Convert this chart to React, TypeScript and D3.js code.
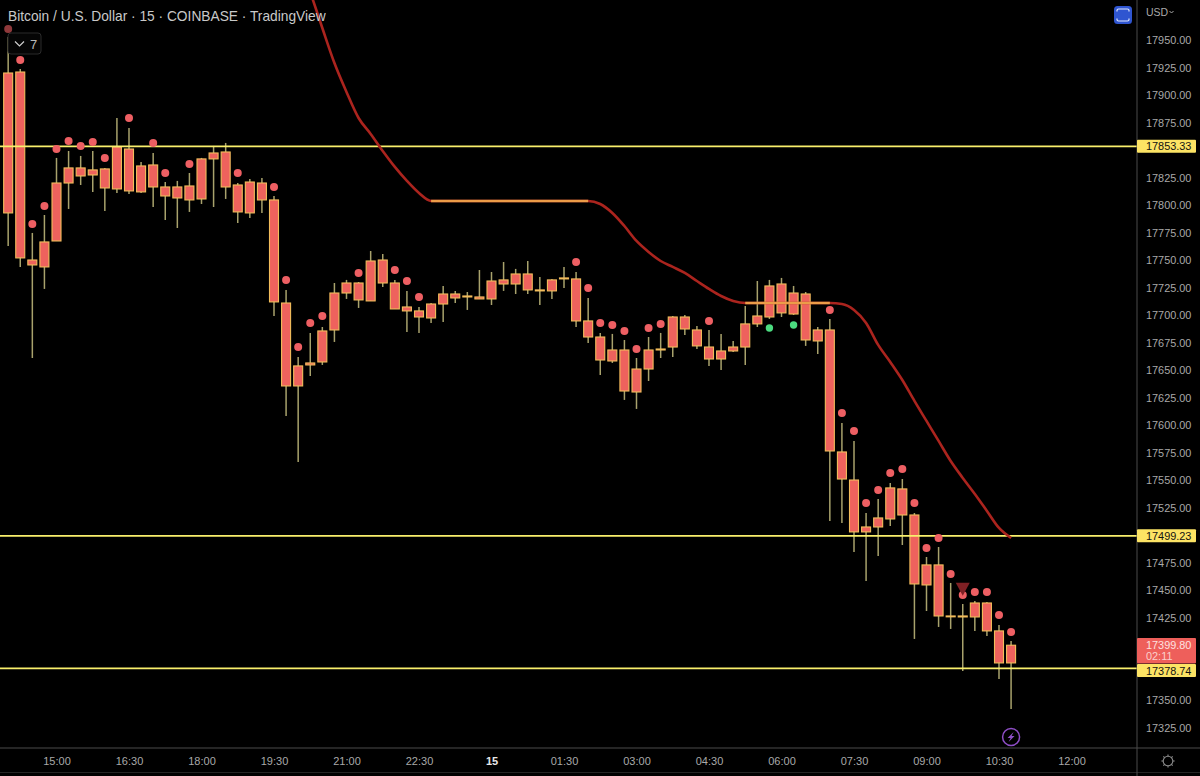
import { useEffect, useRef, FC } from "react";
import * as d3 from "d3";

const WIDTH = 1200;
const HEIGHT = 776;
const AXIS_X = 1137;
const AXIS_Y = 748;
const FONT = "'Liberation Sans', Arial, sans-serif";

const title = "Bitcoin / U.S. Dollar · 15 · COINBASE · TradingView";

/* one bar every 15 minutes, first bar is 14:00 on the 14th */
const highs = [
  17952.8, 17923.7, 17774.6, 17790.9, 17842.8, 17849.1, 17844.6, 17849.1, 17833.7, 17879.1,
  17870.0, 17839.1, 17847.3, 17820.9, 17821.9, 17829.1, 17842.8, 17853.7, 17856.4, 17820.0,
  17823.7, 17824.6, 17808.2, 17722.8, 17661.9, 17683.7, 17689.1, 17729.1, 17731.9, 17730.0,
  17758.2, 17755.5, 17731.9, 17721.9, 17707.3, 17710.9, 17726.4, 17721.9, 17720.9, 17740.9,
  17739.1, 17748.2, 17741.9, 17749.1, 17734.6, 17732.8, 17743.7, 17739.1, 17715.5, 17683.7,
  17682.8, 17677.3, 17660.9, 17680.0, 17683.7, 17699.1, 17700.0, 17690.0, 17686.4, 17682.8,
  17676.4, 17708.2, 17730.9, 17731.9, 17733.7, 17726.4, 17720.9, 17689.1, 17696.4, 17601.9,
  17585.5, 17520.0, 17532.8, 17547.3, 17550.9, 17520.0, 17480.0, 17489.1, 17456.4, 17437.3,
  17440.0, 17439.1, 17418.2, 17403.7,
];
const bodyTops = [
  17920.0, 17920.9, 17750.0, 17766.4, 17820.0, 17833.7, 17833.7, 17831.9, 17832.8, 17852.8,
  17850.9, 17835.5, 17836.4, 17816.4, 17816.4, 17817.3, 17841.9, 17847.3, 17848.2, 17818.2,
  17820.9, 17820.0, 17804.6, 17710.9, 17653.7, 17656.4, 17685.5, 17720.0, 17729.1, 17729.1,
  17749.1, 17750.0, 17729.1, 17707.3, 17703.7, 17710.0, 17719.1, 17719.1, 17717.3, 17716.4,
  17730.9, 17731.9, 17737.3, 17737.3, 17722.8, 17731.9, 17733.7, 17732.8, 17694.6, 17680.0,
  17668.2, 17668.2, 17650.9, 17668.2, 17669.1, 17698.2, 17698.2, 17686.4, 17670.9, 17667.3,
  17670.9, 17691.9, 17699.1, 17726.4, 17728.2, 17720.0, 17719.1, 17686.4, 17686.4, 17575.5,
  17550.0, 17507.3, 17515.5, 17542.8, 17541.9, 17518.2, 17472.8, 17472.8, 17426.4, 17426.4,
  17438.2, 17438.2, 17412.8, 17399.8,
];
const bodyBottoms = [
  17792.8, 17751.9, 17745.5, 17743.7, 17767.3, 17820.0, 17826.4, 17827.3, 17815.5, 17814.6,
  17812.8, 17811.9, 17816.4, 17808.2, 17806.4, 17804.6, 17805.5, 17841.9, 17816.4, 17793.7,
  17792.8, 17804.6, 17711.9, 17635.5, 17635.5, 17654.6, 17657.3, 17686.4, 17720.0, 17713.7,
  17712.8, 17729.1, 17705.5, 17703.7, 17698.2, 17697.3, 17710.0, 17715.5, 17716.4, 17714.6,
  17714.6, 17728.2, 17728.2, 17722.8, 17721.9, 17721.9, 17732.8, 17694.6, 17680.0, 17659.1,
  17658.2, 17630.9, 17630.0, 17650.9, 17668.2, 17670.9, 17687.3, 17671.9, 17660.0, 17660.0,
  17667.3, 17670.9, 17691.9, 17698.2, 17701.9, 17700.9, 17677.3, 17676.4, 17576.4, 17550.9,
  17502.8, 17502.8, 17507.3, 17514.6, 17518.2, 17455.5, 17454.6, 17426.4, 17425.6, 17425.5,
  17425.5, 17412.8, 17383.7, 17383.7,
];
const lows = [
  17762.8, 17743.7, 17660.9, 17723.7, 17767.3, 17796.4, 17818.2, 17811.9, 17794.6, 17810.9,
  17810.0, 17810.9, 17798.2, 17786.4, 17779.1, 17793.7, 17800.9, 17798.2, 17805.5, 17783.7,
  17788.2, 17792.8, 17699.1, 17608.2, 17566.4, 17644.6, 17654.6, 17675.5, 17714.6, 17706.4,
  17712.8, 17725.5, 17705.5, 17684.6, 17683.7, 17692.8, 17693.7, 17710.9, 17704.6, 17714.6,
  17709.1, 17721.9, 17719.1, 17719.1, 17709.1, 17714.6, 17724.6, 17689.1, 17674.6, 17645.5,
  17656.4, 17622.8, 17614.6, 17640.0, 17660.9, 17661.9, 17681.9, 17669.1, 17653.7, 17650.0,
  17666.4, 17654.6, 17689.1, 17696.4, 17698.2, 17700.0, 17671.9, 17664.6, 17512.8, 17510.9,
  17484.6, 17458.2, 17480.9, 17508.2, 17490.9, 17405.5, 17430.9, 17416.4, 17414.6, 17376.4,
  17412.8, 17408.2, 17369.1, 17341.9,
];

/* red dots above the bars: bar index, price */
const redDotBars = [
  0, 1, 2, 3, 4, 5, 6, 7, 8, 10, 12, 13, 15, 19, 22, 23, 24, 25, 26, 29, 32, 33, 34, 47, 48, 49,
  50, 51, 52, 53, 54, 58, 68, 69, 70, 71, 72, 73, 74, 75, 76, 77, 78, 79, 80, 81, 82, 83,
];
const redDotPrices = [
  17960.0, 17931.9, 17782.8, 17799.1, 17850.9, 17858.2, 17853.7, 17857.3, 17842.8, 17879.1,
  17856.4, 17829.1, 17837.3, 17829.1, 17816.4, 17731.9, 17670.9, 17692.8, 17699.1, 17738.2,
  17740.9, 17730.9, 17716.4, 17748.2, 17724.6, 17692.8, 17690.9, 17685.5, 17669.1, 17688.2,
  17691.9, 17694.6, 17704.6, 17610.9, 17594.6, 17529.1, 17540.9, 17556.4, 17560.0, 17529.1,
  17488.2, 17497.3, 17464.6, 17445.5, 17448.2, 17448.2, 17427.3, 17411.9,
];
const greenDotBars = [63, 65];
const greenDotPrices = [17688.2, 17690.9];

/* moving average, starts at bar 25 */
const maStart = 25;
const maValues = [
  17993.7, 17960.9, 17929.1, 17902.8, 17879.1, 17864.6, 17849.1, 17834.6, 17821.9, 17810.9,
  17803.7, 17803.7, 17803.7, 17803.7, 17803.7, 17803.7, 17803.7, 17803.7, 17803.7, 17803.7,
  17803.7, 17803.7, 17803.7, 17803.7, 17800.9, 17792.8, 17780.9, 17767.3, 17757.3, 17749.1,
  17743.7, 17738.2, 17730.9, 17723.7, 17717.3, 17712.8, 17710.9, 17710.9, 17710.9, 17710.9,
  17710.9, 17710.9, 17710.9, 17710.9, 17710.0, 17704.6, 17692.8, 17672.8, 17657.3, 17640.9,
  17621.9, 17603.7, 17585.5, 17567.3, 17551.9, 17537.3, 17521.9, 17506.4, 17497.3,
];

const levels = [17853.33, 17499.23, 17378.74];
const lastPrice = 17399.8;
const countdown = "02:11";
const signalBar = 79;
const signalPrice = 17456.5;
const boltBar = 83;

/* ticks covered by a level or last price label are left out */
const priceTicks = d3
  .range(17325, 17951, 25)
  .filter((t) => ![...levels, lastPrice].some((l) => Math.abs(t - l) < 10));
const timeTickBars = [4, 10, 16, 22, 28, 34, 40, 46, 52, 58, 64, 70, 76, 82, 88];
const timeTickLabels = [
  "15:00", "16:30", "18:00", "19:30", "21:00", "22:30", "15", "01:30",
  "03:00", "04:30", "06:00", "07:30", "09:00", "10:30", "12:00",
];

const x = d3.scaleLinear().domain([4, 82]).range([56.5, 999]);
const y = d3.scaleLinear().domain([17950, 17325]).range([40, 727.5]);

const LAST_TOP = 638;
const LAST_BOTTOM = 663.5;

const App: FC = () => {
  const xAxisRef = useRef<SVGGElement | null>(null);
  const yAxisRef = useRef<SVGGElement | null>(null);

  useEffect(() => {
    const xAxis: any = d3
      .axisBottom(x)
      .tickValues(timeTickBars)
      .tickFormat((_, i) => timeTickLabels[i])
      .tickSize(0)
      .tickPadding(9);
    const yAxis: any = d3
      .axisRight(y)
      .tickValues(priceTicks)
      .tickFormat((d) => (d as number).toFixed(2))
      .tickSize(0)
      .tickPadding(9);

    const xg = d3.select(xAxisRef.current).call(xAxis);
    xg.select(".domain").remove();
    xg.selectAll("text")
      .attr("font-family", FONT)
      .attr("font-size", 11)
      .attr("fill", (_, i) => (timeTickLabels[i] === "15" ? "#e8e8e8" : "#a9a9a9"))
      .attr("font-weight", (_, i) => (timeTickLabels[i] === "15" ? 700 : 400));

    const yg = d3.select(yAxisRef.current).call(yAxis);
    yg.select(".domain").remove();
    yg.selectAll("text")
      .attr("font-family", FONT)
      .attr("font-size", 10.9)
      .attr("fill", "#a9a9a9");
  }, []);

  const maLine = d3
    .line<number>()
    .x((_, i) => x(maStart + i))
    .y((d) => y(d))
    .curve(d3.curveMonotoneX);

  // flat stretches of the average are drawn orange
  const maFlat: number[][] = [];
  maValues.forEach((v, i) => {
    if (i > 0 && v === maValues[i - 1]) {
      const last = maFlat[maFlat.length - 1];
      if (last && last[1] === i - 1) last[1] = i;
      else maFlat.push([i - 1, i]);
    }
  });

  // a level label that would run into the last price label sits just under it
  const labelTop = (l: number): number => {
    const top = y(l) - 6.5;
    return top < LAST_BOTTOM && top + 13 > LAST_TOP ? LAST_BOTTOM + 0.5 : top;
  };

  return (
    <svg
      width={WIDTH}
      height={HEIGHT}
      style={{ position: "fixed", left: 0, top: 0, background: "#000" }}
    >
      <rect width={WIDTH} height={HEIGHT} fill="#000" />

      <defs>
        <clipPath id="pane">
          <rect width={AXIS_X} height={AXIS_Y} />
        </clipPath>
      </defs>

      <g clipPath="url(#pane)">
        {highs.map((h, i) => (
          <line
            key={i}
            x1={x(i)}
            x2={x(i)}
            y1={y(h)}
            y2={y(lows[i])}
            stroke="#a8a26c"
            strokeWidth={1.5}
          />
        ))}
        {bodyTops.map((t, i) => (
          <rect
            key={i}
            x={x(i) - 4.5}
            width={9}
            y={y(t)}
            height={Math.max(0.6, y(bodyBottoms[i]) - y(t))}
            fill="#ee625d"
            stroke="#f2bd5c"
            strokeWidth={1.1}
          />
        ))}

        {levels.map((l) => (
          <line key={l} x1={0} x2={AXIS_X} y1={y(l)} y2={y(l)} stroke="#f9ef6c" strokeWidth={1.7} />
        ))}

        <path d={maLine(maValues) ?? ""} fill="none" stroke="#ab241e" strokeWidth={2.6} />
        {maFlat.map(([a, b]) => (
          <line
            key={a}
            x1={x(maStart + a)}
            x2={x(maStart + b)}
            y1={y(maValues[a])}
            y2={y(maValues[a])}
            stroke="#ec9c48"
            strokeWidth={2.6}
          />
        ))}

        {redDotBars.map((b, i) => (
          <circle
            key={b}
            cx={x(b)}
            cy={y(redDotPrices[i])}
            r={4}
            fill="#ee5f63"
            opacity={i === 0 ? 0.6 : 1}
          />
        ))}
        {greenDotBars.map((b, i) => (
          <circle key={b} cx={x(b)} cy={y(greenDotPrices[i])} r={3.7} fill="#4bdc80" />
        ))}

        <path
          d={`M${x(signalBar) - 7},${y(signalPrice)}h14l-7,13z`}
          fill="#7f2024"
        />

        <g transform={`translate(${x(boltBar)},737)`}>
          <circle r={8.5} fill="none" stroke="#8e4ec6" strokeWidth={1.5} />
          <path d="M2.5,-5 L-3.5,1 H-0.5 L-2.5,5 L3.5,-1 H0.5 Z" fill="#8e4ec6" />
        </g>
      </g>

      {/* price and time scale frames */}
      <line x1={0} x2={WIDTH} y1={AXIS_Y} y2={AXIS_Y} stroke="#4a4a4a" strokeWidth={1} />
      <line x1={0} x2={WIDTH} y1={772.5} y2={772.5} stroke="#242424" strokeWidth={1} />
      <line x1={AXIS_X} x2={AXIS_X} y1={0} y2={HEIGHT} stroke="#4a4a4a" strokeWidth={1} />

      <g ref={yAxisRef} transform={`translate(${AXIS_X},0)`} />
      <g ref={xAxisRef} transform={`translate(0,${AXIS_Y})`} />

      <text x={8} y={21} fontFamily={FONT} fontSize={13.75} fill="#c9c9c9">
        {title}
      </text>

      {/* collapsed indicator list */}
      <rect x={8} y={33} width={33} height={21} rx={3} fill="#050505" stroke="#2b2b2b" />
      <path d="M15,41.5l4.5,4.5l4.5,-4.5" fill="none" stroke="#cfcfcf" strokeWidth={1.2} />
      <text x={30} y={49} fontFamily={FONT} fontSize={13} fill="#b8b8b8">
        7
      </text>

      {/* fullscreen button */}
      <rect x={1114} y={6} width={18} height={18} rx={3.5} fill="#2f55d0" />
      <path
        d="M1118,11.5v-1a1.5,1.5 0 0 1 1.5,-1.5h9a1.5,1.5 0 0 1 1.5,1.5v1 M1118,18.5v1a1.5,1.5 0 0 0 1.5,1.5h9a1.5,1.5 0 0 0 1.5,-1.5v-1"
        transform="translate(-1,0)"
        fill="none"
        stroke="#dfe6fb"
        strokeWidth={1.2}
      />

      <text x={1146} y={16} fontFamily={FONT} fontSize={10.5} fill="#a9a9a9">
        USD
      </text>
      <path d="M1169.5,11l2,2l2,-2" fill="none" stroke="#a9a9a9" strokeWidth={1} />

      {/* level labels */}
      {levels.map((l) => (
        <g key={l}>
          <rect x={AXIS_X} y={labelTop(l)} width={59} height={13} rx={1} fill="#fce364" />
          <text
            x={AXIS_X + 9}
            y={labelTop(l) + 10.5}
            fontFamily={FONT}
            fontSize={10.9}
            fill="#111"
          >
            {l.toFixed(2)}
          </text>
        </g>
      ))}

      {/* last price with countdown */}
      <rect x={AXIS_X} y={LAST_TOP} width={59} height={LAST_BOTTOM - LAST_TOP} rx={1} fill="#ee5f5b" />
      <text x={AXIS_X + 9} y={649} fontFamily={FONT} fontSize={10.9} fill="#fde2e0">
        {lastPrice.toFixed(2)}
      </text>
      <text x={AXIS_X + 9} y={660} fontFamily={FONT} fontSize={10.9} fill="#fbcfcc">
        {countdown}
      </text>

      {/* settings icon */}
      <g transform="translate(1168,761)" fill="none" stroke="#8a8a8a" strokeWidth={1.1}>
        <circle r={4.8} />
        {d3.range(0, 360, 45).map((a) => (
          <line key={a} x1={4.8} x2={6.6} transform={`rotate(${a})`} />
        ))}
      </g>
    </svg>
  );
};

export default App;
